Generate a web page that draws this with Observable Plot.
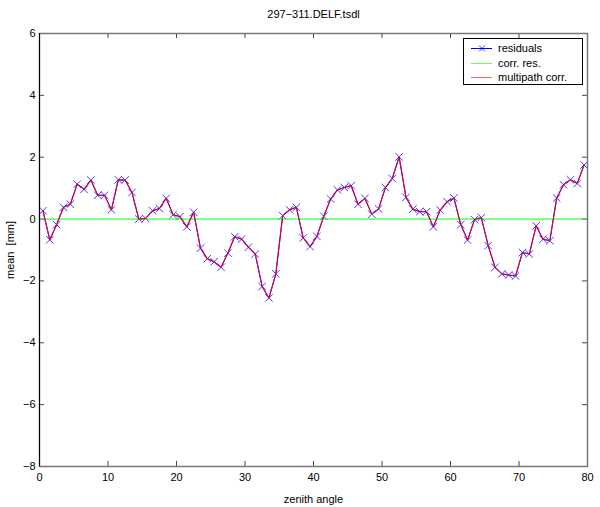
<!DOCTYPE html>
<html>
<head>
<meta charset="utf-8">
<script src="https://cdn.jsdelivr.net/npm/d3@7"></script>
<script src="https://cdn.jsdelivr.net/npm/@observablehq/plot@0.6"></script>
<style>
  html, body { margin: 0; padding: 0; background: #fff; }
  #wrap { position: relative; width: 600px; height: 507px; font-family: "Liberation Sans", Arial, sans-serif; }
  #legend { position: absolute; left: 463px; top: 38px; width: 118px; height: 45px; border: 1px solid #000; background: #fff; font-size: 11px; }
  #legend .row { position: absolute; left: 0; height: 14px; width: 118px; }
  #legend svg { position: absolute; left: 6px; top: 0; }
  #legend span { position: absolute; left: 34px; top: 0; line-height: 14px; }
</style>
</head>
<body>
<div id="wrap"></div>
<script>
const zenith = [0.5,1.5,2.5,3.5,4.5,5.5,6.5,7.5,8.5,9.5,10.5,11.5,12.5,13.5,14.5,15.5,16.5,17.5,18.5,19.5,
  20.5,21.5,22.5,23.5,24.5,25.5,26.5,27.5,28.5,29.5,30.5,31.5,32.5,33.5,34.5,35.5,36.5,37.5,38.5,39.5,
  40.5,41.5,42.5,43.5,44.5,45.5,46.5,47.5,48.5,49.5,50.5,51.5,52.5,53.5,54.5,55.5,56.5,57.5,58.5,59.5,
  60.5,61.5,62.5,63.5,64.5,65.5,66.5,67.5,68.5,69.5,70.5,71.5,72.5,73.5,74.5,75.5,76.5,77.5,78.5,79.5];
const residuals = [0.27,-0.67,-0.18,0.38,0.48,1.13,0.96,1.26,0.77,0.77,
  0.30,1.27,1.26,0.86,0.00,0.02,0.27,0.34,0.67,0.14,
  0.08,-0.25,0.22,-0.94,-1.28,-1.38,-1.56,-1.10,-0.57,-0.65,
  -0.91,-1.13,-2.18,-2.55,-1.77,0.11,0.30,0.38,-0.61,-0.89,
  -0.56,0.09,0.65,0.94,1.02,1.08,0.48,0.67,0.16,0.33,
  1.02,1.31,2.01,0.70,0.32,0.24,0.24,-0.25,0.29,0.56,
  0.68,-0.18,-0.68,-0.02,0.05,-0.86,-1.56,-1.77,-1.81,-1.84,
  -1.08,-1.13,-0.22,-0.65,-0.70,0.68,1.11,1.27,1.15,1.75];
const corrRes = [0,0,0,0,0,0,0,0,0,0, 0,0,0,0,0,0,0,0,0,0, 0,0,0,0,0,0,0,0,0,0, 0,0,0,0,0,0,0,0,0,0,
  0,0,0,0,0,0,0,0,0,0, 0,0,0,0,0,0,0,0,0,0, 0,0,0,0,0,0,0,0,0,0, 0,0,0,0,0,0,0,0,0,0];
const multipathCorr = residuals.slice();
const xTicks = [0,10,20,30,40,50,60,70,80];
const yTicks = [-8,-6,-4,-2,0,2,4,6];
const title = "297\u2212311.DELF.tsdl";

const resData = zenith.map((z, i) => ({x: z, y: residuals[i]}));
const corrData = zenith.map((z, i) => ({x: z, y: corrRes[i]}));
const mpData = zenith.map((z, i) => ({x: z, y: multipathCorr[i]}));

const frameW = 548, frameH = 433;
const chart = Plot.plot({
  width: 600,
  height: 507,
  marginLeft: 39,
  marginRight: 13,
  marginTop: 33,
  marginBottom: 41,
  style: {fontFamily: "Liberation Sans, Arial, sans-serif", fontSize: "11px", background: "#fff", color: "#000"},
  x: {domain: [0, 80], ticks: xTicks},
  y: {domain: [-8, 6], ticks: yTicks},
  marks: [
    Plot.axisX(xTicks, {anchor: "bottom", tickSize: 0, tickPadding: 7, fontSize: 11,
      label: "zenith angle", labelAnchor: "center", labelOffset: 36, labelArrow: "none"}),
    Plot.axisY(yTicks, {anchor: "left", tickSize: 0, tickPadding: 4, fontSize: 11,
      label: "mean  [mm]", labelAnchor: "center", labelOffset: 33, labelArrow: "none"}),
    Plot.ruleX(xTicks, {x: d => d, insetTop: frameH - 5, stroke: "#444"}),
    Plot.ruleX(xTicks, {x: d => d, insetBottom: frameH - 5, stroke: "#444"}),
    Plot.ruleY(yTicks, {y: d => d, insetRight: frameW - 5, stroke: "#444"}),
    Plot.ruleY(yTicks, {y: d => d, insetLeft: frameW - 5, stroke: "#444"}),
    Plot.line(resData, {x: "x", y: "y", stroke: "#0000ff", strokeWidth: 1}),
    Plot.dot(resData, {x: "x", y: "y", symbol: "times", r: 3.5, stroke: "#2a2aff", strokeWidth: 0.9}),
    Plot.line(corrData, {x: "x", y: "y", stroke: "#00ff00", strokeWidth: 1}),
    Plot.line(mpData, {x: "x", y: "y", stroke: "#e0003a", strokeWidth: 1.2, strokeOpacity: 0.9}),
    Plot.frame({stroke: "#777", strokeWidth: 1.5}),
    Plot.ruleX([0], {stroke: "#000", strokeWidth: 1}),
    Plot.text([title], {frameAnchor: "top", dy: -23, fontSize: 11, text: d => d})
  ]
});
const wrap = document.getElementById("wrap");
wrap.appendChild(chart);

const legendItems = [
  {label: "residuals", color: "#0000ff", marker: true},
  {label: "corr. res.", color: "#00ff00", marker: false},
  {label: "multipath corr.", color: "#ff0000", marker: false}
];
const legend = document.createElement("div");
legend.id = "legend";
legendItems.forEach((it, i) => {
  const row = document.createElement("div");
  row.className = "row";
  row.style.top = (2 + i * 14.5) + "px";
  row.innerHTML = `<svg width="24" height="14"><line x1="1" x2="22" y1="7.5" y2="7.5" stroke="${it.color}" stroke-width="1" ${it.marker ? "" : 'stroke-opacity="0.6"'}/>` +
    (it.marker ? `<path d="M9.2,4.7L14.8,10.3M14.8,4.7L9.2,10.3" stroke="${it.color}" stroke-width="0.8"/>` : "") +
    `</svg><span>${it.label}</span>`;
  legend.appendChild(row);
});
wrap.appendChild(legend);
</script>
</body>
</html>
